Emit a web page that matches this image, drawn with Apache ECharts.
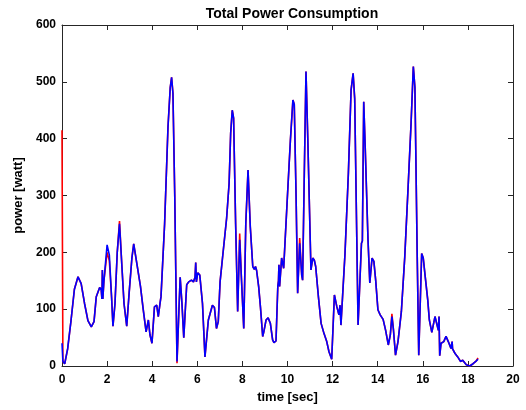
<!DOCTYPE html>
<html>
<head>
<meta charset="utf-8">
<script src="https://cdn.jsdelivr.net/npm/echarts@6/dist/echarts.min.js"></script>
<style>
html,body{margin:0;padding:0;background:#fff;}
#chart{width:526px;height:410px;}
</style>
</head>
<body>
<div id="chart"></div>
<script>
var titleText = 'Total Power Consumption';
var xName = 'time [sec]';
var yName = 'power [watt]';
var xTicks = [0, 2, 4, 6, 8, 10, 12, 14, 16, 18, 20];
var yTicks = [0, 100, 200, 300, 400, 500, 600];

var time = [0.00,0.04,0.12,0.25,0.40,0.55,0.71,0.85,1.00,1.15,1.30,1.42,1.52,1.67,1.74,1.77,1.79,1.81,1.86,2.00,2.10,2.20,2.26,2.35,2.45,2.55,2.65,2.75,2.87,2.98,3.10,3.18,3.30,3.48,3.60,3.73,3.83,3.90,3.99,4.10,4.20,4.27,4.35,4.39,4.55,4.70,4.80,4.86,4.92,5.00,5.10,5.24,5.32,5.40,5.53,5.62,5.74,5.83,5.90,5.93,5.96,6.02,6.11,6.23,6.34,6.49,6.67,6.76,6.85,6.93,6.99,7.01,7.05,7.11,7.18,7.30,7.41,7.48,7.55,7.61,7.70,7.79,7.88,7.95,8.06,8.15,8.25,8.35,8.46,8.53,8.58,8.63,8.72,8.80,8.90,8.95,9.05,9.14,9.24,9.34,9.40,9.49,9.57,9.60,9.62,9.65,9.74,9.83,9.98,10.13,10.24,10.30,10.38,10.45,10.54,10.63,10.67,10.75,10.82,10.90,11.04,11.12,11.19,11.25,11.37,11.49,11.62,11.74,11.84,11.96,12.08,12.19,12.28,12.33,12.37,12.55,12.70,12.82,12.91,12.98,13.13,13.28,13.32,13.38,13.45,13.57,13.65,13.75,13.83,13.91,14.01,14.11,14.24,14.35,14.47,14.56,14.63,14.70,14.79,14.90,15.05,15.20,15.35,15.48,15.58,15.65,15.75,15.82,15.95,16.02,16.10,16.15,16.22,16.29,16.40,16.48,16.54,16.60,16.69,16.72,16.75,16.81,16.93,17.03,17.13,17.25,17.30,17.32,17.43,17.55,17.67,17.77,17.93,18.08,18.23,18.35,18.45];

var measuredPower = [415,8,4,30,80,135,157,145,110,80,69,78,122,138,134,118,169,118,150,200,185,120,70,110,200,255,180,110,70,130,190,215,185,140,100,60,81,55,40,104,107,87,111,122,250,420,490,508,480,300,5,156,110,50,143,148,151,148,156,182,148,164,160,110,16,81,107,103,66,78,79,148,148,187,189,260,321,410,450,436,250,96,233,160,66,250,345,245,175,170,175,168,140,104,52,60,81,85,75,46,41,44,140,150,178,140,190,172,286,398,468,460,300,128,225,160,151,350,518,400,169,190,186,175,122,75,57,43,25,12,125,104,90,107,72,198,339,486,515,470,72,216,220,465,380,222,146,190,184,151,99,90,82,63,37,55,92,63,19,43,96,192,316,427,527,490,200,19,198,190,160,157,116,81,59,61,87,87,63,87,18,40,43,52,43,31,43,30,22,16,8,10,2,0,4,8,14];

var estimatedPower = [40,8,4,30,80,135,157,145,110,80,69,78,122,138,134,118,169,118,150,213,195,120,70,110,200,250,180,110,70,130,190,215,185,140,100,60,81,55,40,104,107,87,111,122,250,420,490,508,480,300,8,156,110,50,143,148,151,148,156,182,148,164,160,110,16,81,107,103,66,78,79,148,148,187,189,260,321,410,450,436,250,96,222,160,66,250,345,245,175,170,175,168,140,104,52,60,81,85,75,46,41,44,140,150,178,140,190,172,286,398,468,460,300,128,216,160,151,350,518,400,169,190,186,175,122,75,57,43,25,12,125,104,90,107,72,198,339,486,515,470,72,216,220,465,380,222,146,190,184,151,99,90,82,63,37,55,87,63,19,43,96,192,316,427,527,490,200,19,198,190,160,157,116,81,59,61,87,87,63,87,18,40,43,52,43,31,43,30,22,16,8,10,2,0,4,8,12];

function pairs(ys){ return time.map(function(t,i){ return [t, ys[i]]; }); }

var axisColor = '#262626';
var font = 'Liberation Sans, Arial, sans-serif';

var chart = echarts.init(document.getElementById('chart'), null, {renderer:'canvas'});
chart.setOption({
  backgroundColor:'#ffffff',
  animation:false,
  title:{
    text:titleText, left:287, top:2, textAlign:'center',
    textStyle:{fontFamily:font, fontSize:14, fontWeight:'bold', color:'#000'}
  },
  grid:{left:62, right:13, top:25, bottom:44, containLabel:false},
  xAxis:[{
    type:'value', min:xTicks[0], max:xTicks[xTicks.length-1], interval:xTicks[1]-xTicks[0],
    name:xName, nameLocation:'middle', nameGap:25,
    nameTextStyle:{fontFamily:font, fontSize:13, fontWeight:'bold', color:'#000'},
    axisLine:{show:true, onZero:false, lineStyle:{color:axisColor, width:1}},
    axisTick:{show:true, inside:true, length:5, lineStyle:{color:axisColor}},
    axisLabel:{fontFamily:font, fontSize:12, fontWeight:'bold', color:'#000', margin:8},
    splitLine:{show:false}
  },{
    type:'value', position:'top', min:xTicks[0], max:xTicks[xTicks.length-1], interval:xTicks[1]-xTicks[0],
    axisLine:{show:true, onZero:false, lineStyle:{color:axisColor, width:1}},
    axisTick:{show:true, inside:true, length:5, lineStyle:{color:axisColor}},
    axisLabel:{show:false}, splitLine:{show:false}
  }],
  yAxis:[{
    type:'value', min:yTicks[0], max:yTicks[yTicks.length-1], interval:yTicks[1]-yTicks[0],
    name:yName, nameLocation:'middle', nameGap:36, nameRotate:90,
    nameTextStyle:{fontFamily:font, fontSize:13, fontWeight:'bold', color:'#000'},
    axisLine:{show:true, onZero:false, lineStyle:{color:axisColor, width:1}},
    axisTick:{show:true, inside:true, length:5, lineStyle:{color:axisColor}},
    axisLabel:{fontFamily:font, fontSize:12, fontWeight:'bold', color:'#000', margin:6},
    splitLine:{show:false}
  },{
    type:'value', position:'right', min:yTicks[0], max:yTicks[yTicks.length-1], interval:yTicks[1]-yTicks[0],
    axisLine:{show:true, onZero:false, lineStyle:{color:axisColor, width:1}},
    axisTick:{show:true, inside:true, length:5, lineStyle:{color:axisColor}},
    axisLabel:{show:false}, splitLine:{show:false}
  }],
  series:[{
    type:'line', name:'measured', data:pairs(measuredPower), showSymbol:false, smooth:false,
    lineStyle:{color:'#ff0000', width:1.6}, itemStyle:{color:'#ff0000'}, z:2
  },{
    type:'line', name:'estimated', data:pairs(estimatedPower), showSymbol:false, smooth:false,
    lineStyle:{color:'#0000ff', width:1.6}, itemStyle:{color:'#0000ff'}, z:3
  }]
});
</script>
</body>
</html>
